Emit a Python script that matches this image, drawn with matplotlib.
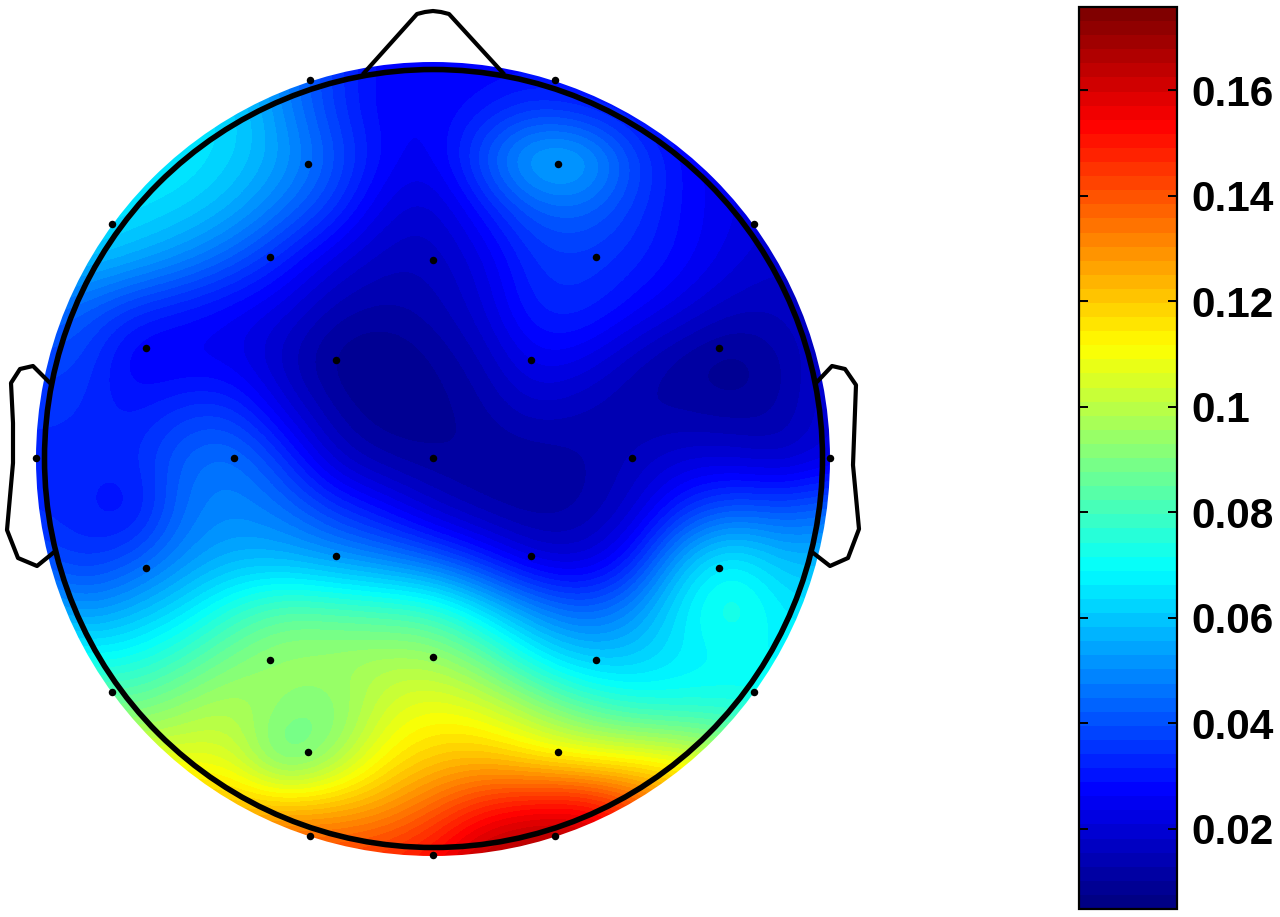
#Scalp map with electrode dots and a jet colorbar
import numpy as np
import matplotlib
matplotlib.use("Agg")
import matplotlib.pyplot as plt
from matplotlib.colors import LinearSegmentedColormap
from matplotlib.patches import Circle

#Values, one row per 50 px (top to bottom), columns 50 px apart
grid_x = np.arange(33, 834, 50)
grid_y = np.arange(59, 860, 50)
values = np.array([
    [.060, .060, .060, .058, .056, .048, .036, .027, .026, .026, .027, .026, .025, .023, .022, .022, .022],
    [.066, .066, .066, .066, .064, .050, .036, .026, .026, .030, .035, .032, .028, .024, .022, .022, .022],
    [.068, .068, .068, .067, .062, .054, .042, .028, .024, .042, .060, .060, .040, .028, .023, .021, .021],
    [.068, .068, .065, .062, .056, .046, .036, .022, .018, .030, .042, .044, .036, .028, .024, .020, .020],
    [.062, .060, .056, .050, .042, .032, .022, .016, .016, .022, .035, .036, .033, .028, .022, .018, .020],
    [.046, .042, .034, .030, .026, .022, .014, .012, .014, .020, .033, .034, .028, .022, .016, .016, .020],
    [.038, .038, .024, .024, .024, .016, .008, .006, .010, .015, .026, .024, .016, .010, .007, .012, .020],
    [.036, .034, .030, .036, .036, .022, .012, .007, .008, .012, .018, .015, .012, .012, .010, .012, .022],
    [.032, .033, .033, .044, .048, .036, .018, .012, .010, .010, .010, .012, .016, .020, .020, .016, .022],
    [.034, .032, .026, .046, .050, .046, .036, .028, .018, .012, .010, .012, .018, .034, .042, .040, .045],
    [.040, .034, .040, .050, .056, .056, .052, .048, .042, .032, .020, .018, .030, .058, .070, .058, .058],
    [.058, .050, .056, .064, .076, .084, .082, .080, .078, .064, .050, .042, .050, .068, .078, .066, .064],
    [.076, .070, .072, .080, .090, .096, .097, .098, .097, .087, .070, .060, .060, .066, .068, .068, .068],
    [.092, .090, .088, .095, .100, .092, .088, .104, .110, .106, .096, .084, .076, .074, .074, .072, .072],
    [.110, .110, .108, .107, .106, .080, .094, .112, .120, .122, .116, .112, .112, .110, .100, .090, .090],
    [.130, .130, .128, .126, .124, .124, .124, .128, .138, .150, .156, .158, .145, .130, .120, .110, .110],
    [.140, .140, .140, .140, .140, .146, .146, .148, .154, .168, .172, .170, .158, .140, .130, .120, .120],
])

#Electrode positions (px)
elec_x = [310, 555, 308, 558, 112, 754, 270, 433, 596, 146, 336, 531, 719, 36, 234, 433, 632, 830,
          146, 336, 531, 719, 270, 433, 596, 112, 754, 308, 558, 310, 555, 433]
elec_y = [80, 80, 164, 164, 224, 224, 257, 260, 257, 348, 360, 360, 348, 458, 458, 458, 458, 458,
          568, 556, 556, 568, 660, 657, 660, 692, 692, 752, 752, 836, 836, 855]

#Head outline pieces (px)
nose_x = [364, 417, 425, 433, 441, 449, 503]
nose_y = [73, 14, 12, 11, 12, 14, 73]
left_ear_x = [50, 33, 20, 11, 13, 13, 7, 18, 37, 53]
left_ear_y = [383, 366, 369, 383, 423, 463, 530, 558, 566, 553]
right_ear_x = [816, 832, 845, 856, 853, 859, 848, 830, 812]
right_ear_y = [383, 366, 369, 385, 465, 529, 558, 566, 552]

#Colour scale
vmin = 0.0048
vmax = 0.1758
cbar_ticks = [0.02, 0.04, 0.06, 0.08, 0.1, 0.12, 0.14, 0.16]
cbar_labels = ["0.02", "0.04", "0.06", "0.08", "0.1", "0.12", "0.14", "0.16"]

W, H = 1280, 917
fig = plt.figure(figsize=(W / 100, H / 100), dpi=100, facecolor="white")
ax = fig.add_axes([0, 0, 1, 1])
ax.set_xlim(0, W)
ax.set_ylim(H, 0)
ax.axis("off")

#MATLAB style jet with 64 steps
cmap = LinearSegmentedColormap.from_list("matlab_jet", [
    (0, (0, 0, .516)), (1 / 8, (0, 0, 1)), (3 / 8, (0, 1, 1)),
    (5 / 8, (1, 1, 0)), (7 / 8, (1, 0, 0)), (1, (.5, 0, 0))], N=64)
half = 25
im = ax.imshow(values, cmap=cmap, vmin=vmin, vmax=vmax, interpolation="bicubic", aspect="auto",
               extent=(grid_x[0] - half, grid_x[-1] + half, grid_y[-1] + half, grid_y[0] - half))
ax.set_xlim(0, W)
ax.set_ylim(H, 0)
clip = Circle((433, 459), 397, transform=ax.transData)
im.set_clip_path(clip)

#Head ring, nose and ears
ax.add_patch(Circle((433.5, 458.5), 389, fill=False, edgecolor="black", linewidth=4))
ax.plot(nose_x, nose_y, color="black", lw=3)
ax.plot(left_ear_x, left_ear_y, color="black", lw=3)
ax.plot(right_ear_x, right_ear_y, color="black", lw=3)

#Electrodes
ax.plot(elec_x, elec_y, "o", color="black", markersize=5.4, clip_on=False, markeredgewidth=0)

#Colorbar
cax = fig.add_axes([1079 / W, 1 - 909 / H, 98 / W, 902 / H])
cb = fig.colorbar(im, cax=cax)
cb.set_ticks(cbar_ticks)
cb.set_ticklabels(cbar_labels)
cb.outline.set_linewidth(1.6)
cax.minorticks_off()
cax.tick_params(axis="y", direction="in", left=True, right=True, length=6.5, width=1.4, pad=10)
for lab in cax.get_yticklabels():
    lab.set_fontfamily("Liberation Sans")
    lab.set_fontweight("bold")
    lab.set_fontsize(30.5)

fig.savefig("out.png", dpi=100)
